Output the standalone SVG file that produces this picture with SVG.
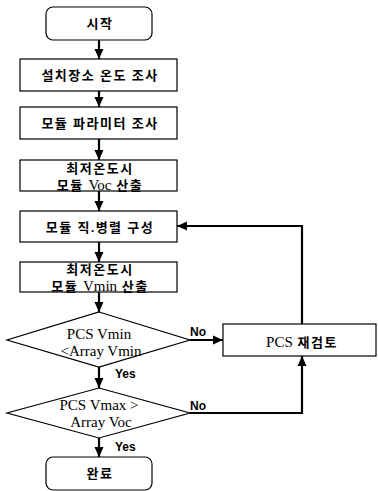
<svg xmlns="http://www.w3.org/2000/svg" width="378" height="491" viewBox="0 0 378 491">
<defs>
<marker id="ah" markerUnits="userSpaceOnUse" markerWidth="10" markerHeight="10" viewBox="0 0 10 10" refX="10" refY="5" orient="auto">
<path d="M0,0.5 L10,5 L0,9.5 Z" fill="#000"/>
</marker>
<style>
.box{fill:#fff;stroke:#000;stroke-width:1.2}
.t{font-family:"Liberation Serif","Noto Sans CJK KR",serif;font-size:13px;font-weight:bold;text-anchor:middle;fill:#000;letter-spacing:1.5px}
.l{font-weight:normal;font-size:15px;letter-spacing:0}
.lab{font-family:"Liberation Sans",Arial,sans-serif;font-size:12px;font-weight:bold;fill:#000}
.c{fill:none;stroke:#000;stroke-width:2.2;marker-end:url(#ah)}
</style>
</defs>
<rect width="378" height="491" fill="#fff"/>
<g id="start"><rect class="box" x="46" y="7" width="106" height="33" rx="7"/><text class="t" x="100" y="28">시작</text></g>
<g id="n1"><rect class="box" x="20" y="59" width="157" height="32"/><text class="t" x="100" y="80">설치장소 온도 조사</text></g>
<g id="n2"><rect class="box" x="20" y="107" width="157" height="32"/><text class="t" x="100" y="128">모듈 파라미터 조사</text></g>
<g id="n3"><rect class="box" x="20" y="160" width="157" height="31"/><text class="t" x="100" y="173">최저온도시</text><text class="t" x="100" y="190">모듈 <tspan class="l">Voc</tspan> 산출</text></g>
<g id="n4"><rect class="box" x="20" y="211" width="157" height="31"/><text class="t" x="100" y="232">모듈 직.병렬 구성</text></g>
<g id="n5"><rect class="box" x="20" y="262" width="157" height="30"/><text class="t" x="100" y="274">최저온도시</text><text class="t" x="100" y="291">모듈 <tspan class="l">Vmin</tspan> 산출</text></g>
<g id="d1"><polygon class="box" points="99,312 190,340 99,367 7,340"/><text class="t l" x="99" y="339">PCS Vmin</text><text class="t l" x="101" y="356">&lt;Array Vmin</text></g>
<g id="d2"><polygon class="box" points="99,388 190,413 99,438 7,413"/><text class="t l" x="99" y="410">PCS Vmax &gt;</text><text class="t l" x="101" y="427">Array Voc</text></g>
<g id="end"><rect class="box" x="46" y="457" width="106" height="33" rx="7"/><text class="t" x="100" y="478">완료</text></g>
<g id="pcs"><rect class="box" x="223" y="324" width="153" height="32"/><text class="t" x="302" y="347"><tspan class="l">PCS</tspan> 재검토</text></g>
<g id="connectors">
<line class="c" x1="99" y1="40" x2="99" y2="59"/>
<line class="c" x1="99" y1="91" x2="99" y2="107"/>
<line class="c" x1="99" y1="139" x2="99" y2="160"/>
<line class="c" x1="99" y1="191" x2="99" y2="211"/>
<line class="c" x1="99" y1="242" x2="99" y2="262"/>
<line class="c" x1="99" y1="292" x2="99" y2="312"/>
<line class="c" x1="99" y1="367" x2="99" y2="388"/>
<line class="c" x1="99" y1="438" x2="99" y2="457"/>
<line class="c" x1="190" y1="340" x2="223" y2="340"/>
<polyline class="c" points="302,324 302,226 177,226"/>
<polyline class="c" points="190,413 302,413 302,356"/>
<text class="lab" x="115" y="378">Yes</text>
<text class="lab" x="115" y="451">Yes</text>
<text class="lab" x="190" y="336">No</text>
<text class="lab" x="190" y="410">No</text>
</g>
</svg>
